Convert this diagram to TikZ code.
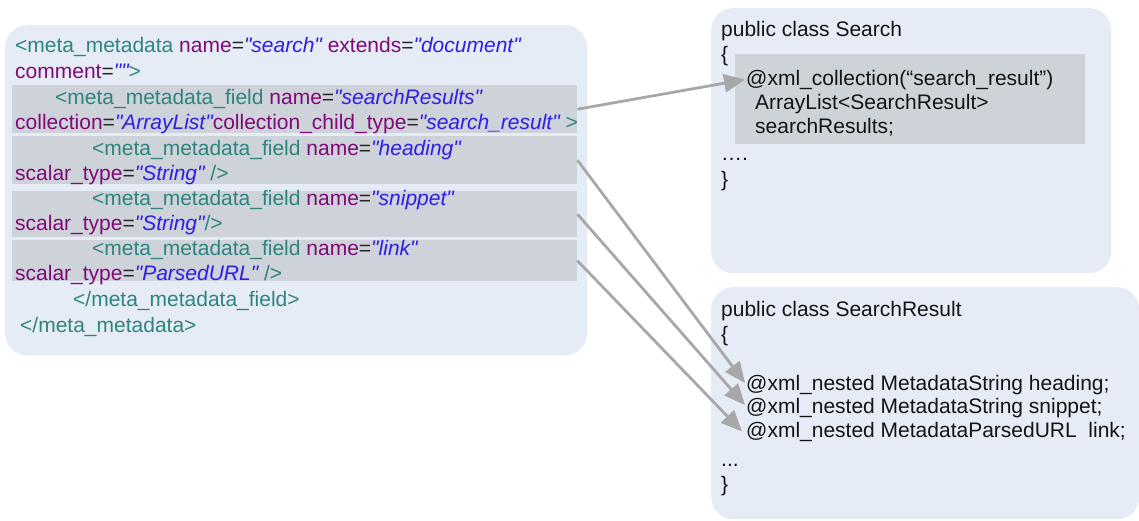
\documentclass[tikz,border=0pt]{standalone}
\usepackage{fontspec}
\newfontfamily\codefont{Liberation Sans}
\usetikzlibrary{arrows.meta}

\definecolor{panelfill}{RGB}{230,236,246}
\definecolor{bandfill}{RGB}{206,210,217}
\definecolor{tagcol}{RGB}{46,133,125}
\definecolor{attrcol}{RGB}{128,10,120}
\definecolor{valcol}{RGB}{45,30,230}
\definecolor{linkcol}{RGB}{168,168,168}
\definecolor{javacol}{RGB}{20,20,20}

% syntax colouring for the XML lines
\newcommand\xtag[1]{\textcolor{tagcol}{#1}}
\newcommand\xattr[1]{\textcolor{attrcol}{#1}}
\newcommand\xval[1]{\textcolor{valcol}{\itshape #1}}
\newcommand\xeq{\textcolor{black!85}{=}}

\tikzset{
  panel/.style={fill=panelfill, draw=none, rounded corners=22pt, inner sep=0pt, anchor=north west},
  band/.style={fill=bandfill, draw=none, inner sep=0pt, anchor=north west},
  codeline/.style={anchor=base west, inner sep=0pt, font=\codefont\fontsize{21}{25}\selectfont},
  javaline/.style={codeline, text=javacol},
  maplink/.style={draw=linkcol, line width=2.8pt, -{Triangle[length=21pt,width=18pt]}}
}

\begin{document}
\begin{tikzpicture}[x=1pt, y=-1pt]
\useasboundingbox (0,0) rectangle (1139,520);

% panels
\node[panel, minimum width=582pt, minimum height=330pt] (xmlpanel) at (5,25) {};
\node[panel, minimum width=400pt, minimum height=265pt] (searchpanel) at (711,8) {};
\node[panel, minimum width=428pt, minimum height=232pt] (resultpanel) at (711,287) {};

% highlighted field declarations
\node[band, minimum width=565pt, minimum height=48pt] (fresults) at (12,85) {};
\node[band, minimum width=565pt, minimum height=48pt] (fheading) at (12,136) {};
\node[band, minimum width=565pt, minimum height=46pt] (fsnippet) at (12,191) {};
\node[band, minimum width=565pt, minimum height=41pt] (flink) at (12,240) {};
\node[band, minimum width=350pt, minimum height=90pt] (jresults) at (735,54) {};

% XML meta-metadata
\node[codeline] (x1) at (15,52) {\xtag{<meta\_metadata} \xattr{name}\xeq\xval{"search"} \xattr{extends}\xeq\xval{"document"}};
\node[codeline] (x2) at (15,78) {\xattr{comment}\xeq\xval{""}\xtag{>}};
\node[codeline] (x3) at (55,104) {\xtag{<meta\_metadata\_field} \xattr{name}\xeq\xval{"searchResults"}};
\node[codeline] (x4) at (15,129) {\xattr{collection}\xeq\xval{"ArrayList"}\xattr{collection\_child\_type}\xeq\xval{"search\_result"} \xtag{>}};
\node[codeline] (x5) at (92,155) {\xtag{<meta\_metadata\_field} \xattr{name}\xeq\xval{"heading"}};
\node[codeline] (x6) at (15,180) {\xattr{scalar\_type}\xeq\xval{"String"} \xtag{/>}};
\node[codeline] (x7) at (92,205) {\xtag{<meta\_metadata\_field} \xattr{name}\xeq\xval{"snippet"}};
\node[codeline] (x8) at (15,230) {\xattr{scalar\_type}\xeq\xval{"String"}\xtag{/>}};
\node[codeline] (x9) at (92,255) {\xtag{<meta\_metadata\_field} \xattr{name}\xeq\xval{"link"}};
\node[codeline] (x10) at (15,280) {\xattr{scalar\_type}\xeq\xval{"ParsedURL"} \xtag{/>}};
\node[codeline] (x11) at (73,306) {\xtag{</meta\_metadata\_field>}};
\node[codeline] (x12) at (20,332) {\xtag{</meta\_metadata>}};

% Java class Search
\node[javaline] (s1) at (721,36) {public class Search};
\node[javaline] (s2) at (721,61) {\{};
\node[javaline] (s3) at (746,85) {@xml\_collection(“search\_result”)};
\node[javaline] (s4) at (755,109) {ArrayList<SearchResult>};
\node[javaline] (s5) at (755,133) {searchResults;};
\node[javaline] (s6) at (721,160) {….};
\node[javaline] (s7) at (721,186) {\}};

% Java class SearchResult
\node[javaline] (r1) at (721,316) {public class SearchResult};
\node[javaline] (r2) at (721,341) {\{};
\node[javaline] (r3) at (746,390) {@xml\_nested MetadataString heading;};
\node[javaline] (r4) at (746,413) {@xml\_nested MetadataString snippet;};
\node[javaline] (r5) at (746,437) {@xml\_nested MetadataParsedURL\ \ link;};
\node[javaline] (r6) at (721,466) {...};
\node[javaline] (r7) at (721,491) {\}};

% field-to-member mappings
\draw[maplink] (fresults.east) -- ([xshift=-1pt]s3.west);
\draw[maplink] (fheading.east) -- ([xshift=-1pt,yshift=1.5pt]r3.west);
\draw[maplink] (fsnippet.east) -- ([xshift=-1pt,yshift=2.5pt]r4.west);
\draw[maplink] (flink.east) -- ([xshift=-4pt]r5.west);
\end{tikzpicture}
\end{document}
